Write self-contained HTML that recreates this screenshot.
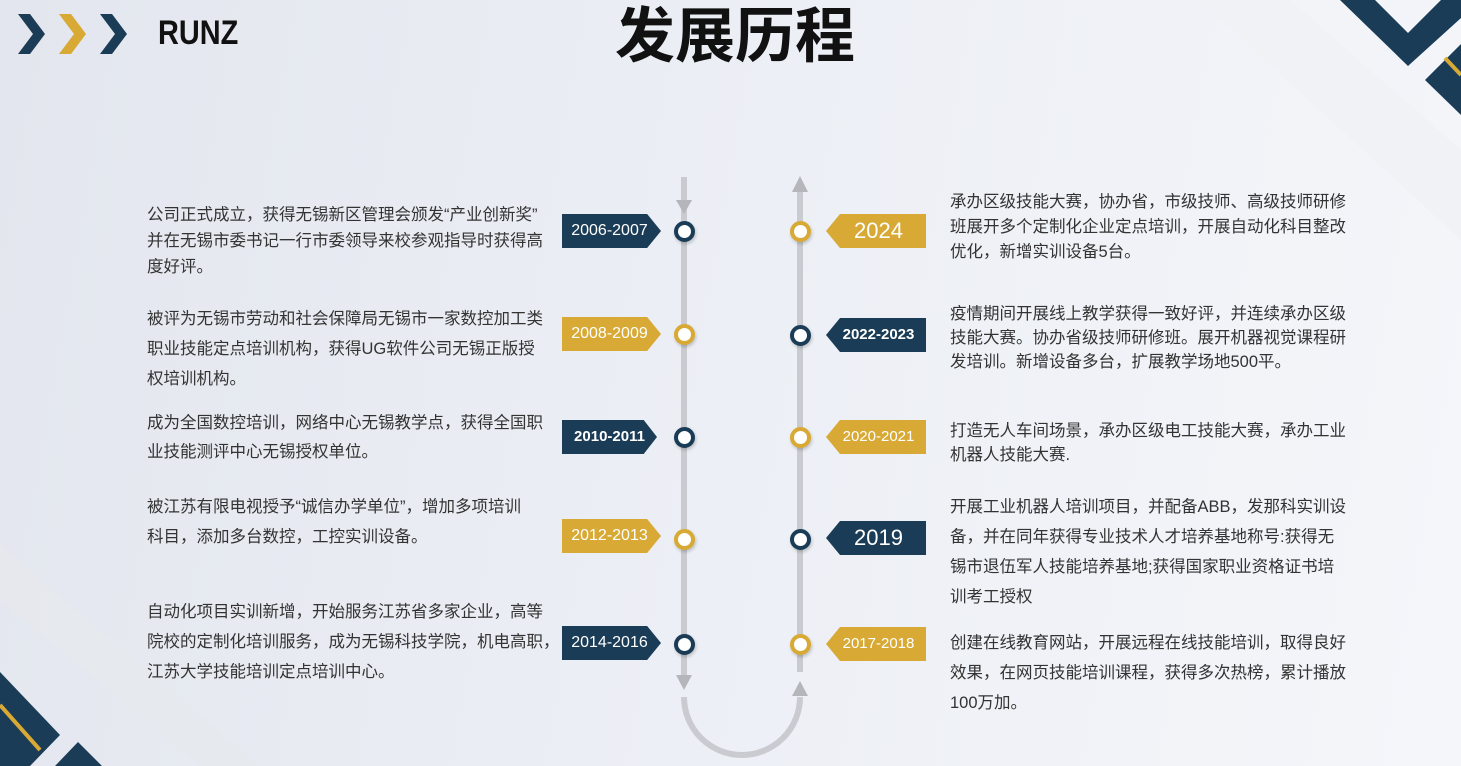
<!DOCTYPE html>
<html><head><meta charset="utf-8"><style>
html,body{margin:0;padding:0}
body{width:1461px;height:766px;position:relative;overflow:hidden;background:linear-gradient(100deg,#e3e6ee 0%,#eceff5 50%,#f5f6fa 100%);font-family:"Liberation Sans","Noto Sans CJK SC",sans-serif}
.t{position:absolute;font-size:16.5px;color:#333;white-space:nowrap}
.lab{position:absolute;height:34px;line-height:34px;color:#fff;font-size:16px;text-align:center;box-shadow:2px 3px 4px rgba(0,0,0,.15)}
.L{width:95px;clip-path:polygon(0 0,86% 0,100% 50%,86% 100%,0 100%)}
.R{width:95px;clip-path:polygon(14% 0,100% 0,100% 100%,14% 100%,0 50%)}
.n{background:#1b3c56}.g{background:#d8aa35}
.c{position:absolute;width:13px;height:13px;border-radius:50%;background:#fff;border:4px solid;box-shadow:1px 2px 3px rgba(0,0,0,.2)}
.cn{border-color:#1b3c56}.cg{border-color:#d8aa35}
</style></head><body>
<svg width="1461" height="766" style="position:absolute;left:0;top:0">
<polygon points="1200,0 1290,0 1461,150 1461,240" fill="#f0f1f4" opacity=".8"/>
<polygon points="1340,0 1375,0 1408,33 1441,0 1461,0 1461,18 1408,66" fill="#1b3c56"/>
<polygon points="1425,80 1461,44 1461,115" fill="#1b3c56"/>
<line x1="1445" y1="58" x2="1461" y2="75" stroke="#d8aa35" stroke-width="4"/>
<polygon points="0,545 0,600 200,766 260,766" fill="#e6e8ed" opacity=".8"/>
<polygon points="0,672 60,735 30,766 0,766" fill="#1b3c56"/>
<line x1="0" y1="705" x2="40" y2="750" stroke="#d8aa35" stroke-width="4"/>
<polygon points="55,766 78,742 102,766" fill="#1b3c56"/>
<polygon points="18,14 30,14 45,34 30,54 18,54 33,34" fill="#1b3c56"/>
<polygon points="59,14 71,14 86,34 71,54 59,54 74,34" fill="#d8aa35"/>
<polygon points="100,14 112,14 127,34 112,54 100,54 115,34" fill="#1b3c56"/>
<line x1="684" y1="177" x2="684" y2="675" stroke="#c9cbd0" stroke-width="6"/>
<polygon points="676,200 692,200 684,214" fill="#b4b6bb"/>
<polygon points="676,675 692,675 684,690" fill="#b4b6bb"/>
<line x1="800" y1="190" x2="800" y2="672" stroke="#c9cbd0" stroke-width="6"/>
<polygon points="792,192 808,192 800,176" fill="#b4b6bb"/>
<polygon points="792,696 808,696 800,681" fill="#b4b6bb"/>
<path d="M684,697 A58,58 0 0 0 800,697" fill="none" stroke="#c9cbd0" stroke-width="6"/>
</svg>
<div style="position:absolute;left:158px;top:14px;font-size:34px;font-weight:bold;color:#111;transform:scaleX(.85);transform-origin:left">RUNZ</div>
<div style="position:absolute;left:0;width:1461px;top:-12px;text-align:center;font-size:60px;font-weight:bold;color:#111;padding-left:9px;box-sizing:border-box">发展历程</div>

<div class="t" style="left:147px;top:202px;line-height:26px">公司正式成立，获得无锡新区管理会颁发“产业创新奖”<br>并在无锡市委书记一行市委领导来校参观指导时获得高<br>度好评。</div>
<div class="t" style="left:147px;top:304px;line-height:30px">被评为无锡市劳动和社会保障局无锡市一家数控加工类<br>职业技能定点培训机构，获得UG软件公司无锡正版授<br>权培训机构。</div>
<div class="t" style="left:147px;top:409px;line-height:29px">成为全国数控培训，网络中心无锡教学点，获得全国职<br>业技能测评中心无锡授权单位。</div>
<div class="t" style="left:147px;top:492px;line-height:30px">被江苏有限电视授予“诚信办学单位”，增加多项培训<br>科目，添加多台数控，工控实训设备。</div>
<div class="t" style="left:147px;top:597px;line-height:30px">自动化项目实训新增，开始服务江苏省多家企业，高等<br>院校的定制化培训服务，成为无锡科技学院，机电高职，<br>江苏大学技能培训定点培训中心。</div>

<div class="t" style="left:950px;top:190px;line-height:25px">承办区级技能大赛，协办省，市级技师、高级技师研修<br>班展开多个定制化企业定点培训，开展自动化科目整改<br>优化，新增实训设备5台。</div>
<div class="t" style="left:950px;top:302px;line-height:24px">疫情期间开展线上教学获得一致好评，并连续承办区级<br>技能大赛。协办省级技师研修班。展开机器视觉课程研<br>发培训。新增设备多台，扩展教学场地500平。</div>
<div class="t" style="left:950px;top:419px;line-height:24px">打造无人车间场景，承办区级电工技能大赛，承办工业<br>机器人技能大赛.</div>
<div class="t" style="left:950px;top:492px;line-height:30px">开展工业机器人培训项目，并配备ABB，发那科实训设<br>备，并在同年获得专业技术人才培养基地称号:获得无<br>锡市退伍军人技能培养基地;获得国家职业资格证书培<br>训考工授权</div>
<div class="t" style="left:950px;top:628px;line-height:30px">创建在线教育网站，开展远程在线技能培训，取得良好<br>效果，在网页技能培训课程，获得多次热榜，累计播放<br>100万加。</div>

<div class="lab L n" style="left:562px;top:214px;padding-right:4px">2006-2007</div>
<div class="lab L g" style="left:562px;top:317px;padding-right:4px">2008-2009</div>
<div class="lab L n" style="left:562px;top:420px;font-weight:bold;font-size:15px">2010-2011</div>
<div class="lab L g" style="left:562px;top:519px;padding-right:4px">2012-2013</div>
<div class="lab L n" style="left:562px;top:626px;padding-right:4px">2014-2016</div>

<div class="lab R g" style="left:826px;top:214px;font-size:22px;padding-left:5px">2024</div>
<div class="lab R n" style="left:826px;top:318px;font-weight:bold;font-size:15px;padding-left:5px">2022-2023</div>
<div class="lab R g" style="left:826px;top:420px;font-size:15px;padding-left:5px">2020-2021</div>
<div class="lab R n" style="left:826px;top:521px;font-size:22px;padding-left:5px">2019</div>
<div class="lab R g" style="left:826px;top:627px;font-size:15px;padding-left:5px">2017-2018</div>

<div class="c cn" style="left:674px;top:221px"></div>
<div class="c cg" style="left:674px;top:324px"></div>
<div class="c cn" style="left:674px;top:427px"></div>
<div class="c cg" style="left:674px;top:529px"></div>
<div class="c cn" style="left:674px;top:634px"></div>
<div class="c cg" style="left:790px;top:221px"></div>
<div class="c cn" style="left:790px;top:325px"></div>
<div class="c cg" style="left:790px;top:427px"></div>
<div class="c cn" style="left:790px;top:529px"></div>
<div class="c cg" style="left:790px;top:634px"></div>
</body></html>
